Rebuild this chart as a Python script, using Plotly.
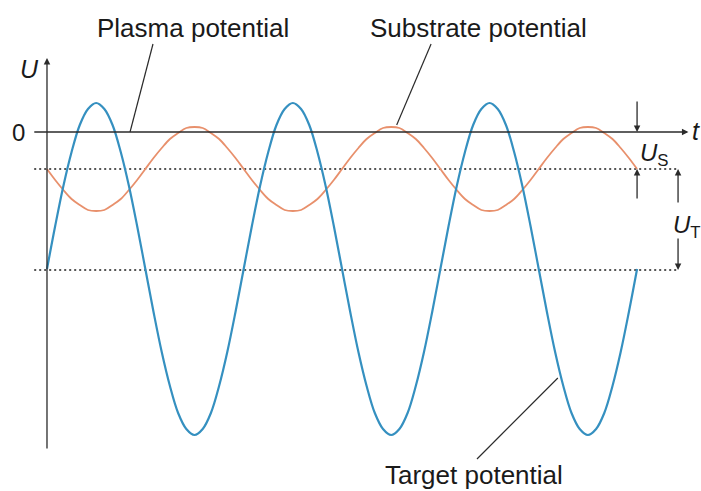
import plotly.graph_objects as go

# RF phase in degrees, read every 15 degrees over three periods
phase_deg = [0, 15, 30, 45, 60, 75, 90, 105, 120, 135, 150, 165,
             180, 195, 210, 225, 240, 255, 270, 285, 300, 315, 330, 345,
             360, 375, 390, 405, 420, 435, 450, 465, 480, 495, 510, 525,
             540, 555, 570, 585, 600, 615, 630, 645, 660, 675, 690, 705,
             720, 735, 750, 765, 780, 795, 810, 825, 840, 855, 870, 885,
             900, 915, 930, 945, 960, 975, 990, 1005, 1020, 1035, 1050, 1065,
             1080]

# Target potential (arbitrary units), swinging around its DC self-bias
target_potential = [-13.7, -9.4, -5.4, -2.0, 0.7, 2.3, 2.9, 2.3, 0.7, -2.0, -5.4, -9.4,
                    -13.7, -18.0, -22.0, -25.4, -28.1, -29.7, -30.3, -29.7, -28.1, -25.4, -22.0, -18.0,
                    -13.7, -9.4, -5.4, -2.0, 0.7, 2.3, 2.9, 2.3, 0.7, -2.0, -5.4, -9.4,
                    -13.7, -18.0, -22.0, -25.4, -28.1, -29.7, -30.3, -29.7, -28.1, -25.4, -22.0, -18.0,
                    -13.7, -9.4, -5.4, -2.0, 0.7, 2.3, 2.9, 2.3, 0.7, -2.0, -5.4, -9.4,
                    -13.7, -18.0, -22.0, -25.4, -28.1, -29.7, -30.3, -29.7, -28.1, -25.4, -22.0, -18.0,
                    -13.7]

# Substrate potential (arbitrary units), in antiphase with the target
substrate_potential = [-3.7, -4.8, -5.8, -6.7, -7.3, -7.8, -7.9, -7.8, -7.3, -6.7, -5.8, -4.8,
                       -3.7, -2.6, -1.6, -0.7, -0.1, 0.4, 0.5, 0.4, -0.1, -0.7, -1.6, -2.6,
                       -3.7, -4.8, -5.8, -6.7, -7.3, -7.8, -7.9, -7.8, -7.3, -6.7, -5.8, -4.8,
                       -3.7, -2.6, -1.6, -0.7, -0.1, 0.4, 0.5, 0.4, -0.1, -0.7, -1.6, -2.6,
                       -3.7, -4.8, -5.8, -6.7, -7.3, -7.8, -7.9, -7.8, -7.3, -6.7, -5.8, -4.8,
                       -3.7, -2.6, -1.6, -0.7, -0.1, 0.4, 0.5, 0.4, -0.1, -0.7, -1.6, -2.6,
                       -3.7]

# DC levels of both electrodes
substrate_bias = -3.7
target_bias = -13.8

BLUE = "#3590c0"
ORANGE = "#e8906c"
INK = "#2b2b2b"
FONT = "Liberation Sans, Arial, sans-serif"

fig = go.Figure()

fig.add_trace(go.Scatter(
    x=phase_deg, y=substrate_potential, mode="lines",
    line=dict(color=ORANGE, width=1.8, shape="spline", smoothing=1.0),
    hoverinfo="skip", showlegend=False))

fig.add_trace(go.Scatter(
    x=phase_deg, y=target_potential, mode="lines",
    line=dict(color=BLUE, width=2.2, shape="spline", smoothing=1.0),
    hoverinfo="skip", showlegend=False))

# Dotted DC levels
for level in (substrate_bias, target_bias):
    fig.add_shape(type="line", x0=-23.4, x1=1155, y0=level, y1=level,
                  line=dict(color="#555555", width=2, dash="2px,3px"), layer="below")


def arrow(x_tip, y_tip, x_tail, y_tail, head=2, size=1.0, width=1.3):
    fig.add_annotation(x=x_tip, y=y_tip, ax=x_tail, ay=y_tail,
                       xref="x", yref="y", axref="x", ayref="y",
                       text="", showarrow=True, arrowhead=head, arrowsize=size,
                       arrowwidth=width, arrowcolor=INK, standoff=0, startstandoff=0)


# Coordinate axes
arrow(0, 7.4, 0, -31.8)             # U axis
arrow(1174, 0.0, -26, 0.0)          # t axis

# U_S markers
arrow(1080, 0.0, 1080, 3.2)
arrow(1080, substrate_bias, 1080, -6.8)
# U_T markers
arrow(1155, substrate_bias, 1155, -7.2)
arrow(1155, target_bias, 1155, -10.5)

# Leader lines to the labels
leaders = [((152, 0.0), (194, 8.8)),
           ((640, 0.7), (703, 8.8)),
           ((935, -24.6), (787, -32.7))]
for (xa, ya), (xb, yb) in leaders:
    fig.add_shape(type="line", x0=xa, y0=ya, x1=xb, y1=yb,
                  line=dict(color=INK, width=1.2))


def label(x, y, text, size=26, **kw):
    fig.add_annotation(x=x, y=y, xref="x", yref="y", text=text, showarrow=False,
                       font=dict(family=FONT, size=size, color="#1a1a1a"), **kw)


label(267, 10.4, "Plasma potential")
label(789, 10.4, "Substrate potential")
label(782, -34.3, "Target potential")
label(-53, 0.0, "0", size=24)
label(-32, 6.3, "<i>U</i>", size=25)
label(1187, 0.1, "<i>t</i>", size=25)
label(1111, -2.2, "<i>U</i><sub>S</sub>", size=24)
label(1171, -9.4, "<i>U</i><sub>T</sub>", size=24)

fig.update_layout(
    width=701, height=491,
    margin=dict(l=0, r=0, t=0, b=0),
    paper_bgcolor="white", plot_bgcolor="white",
    xaxis=dict(visible=False, range=[-86.0, 1197.0], fixedrange=True),
    yaxis=dict(visible=False, range=[-35.9, 13.2], fixedrange=True),
    showlegend=False,
)

fig.write_html("out.html")
